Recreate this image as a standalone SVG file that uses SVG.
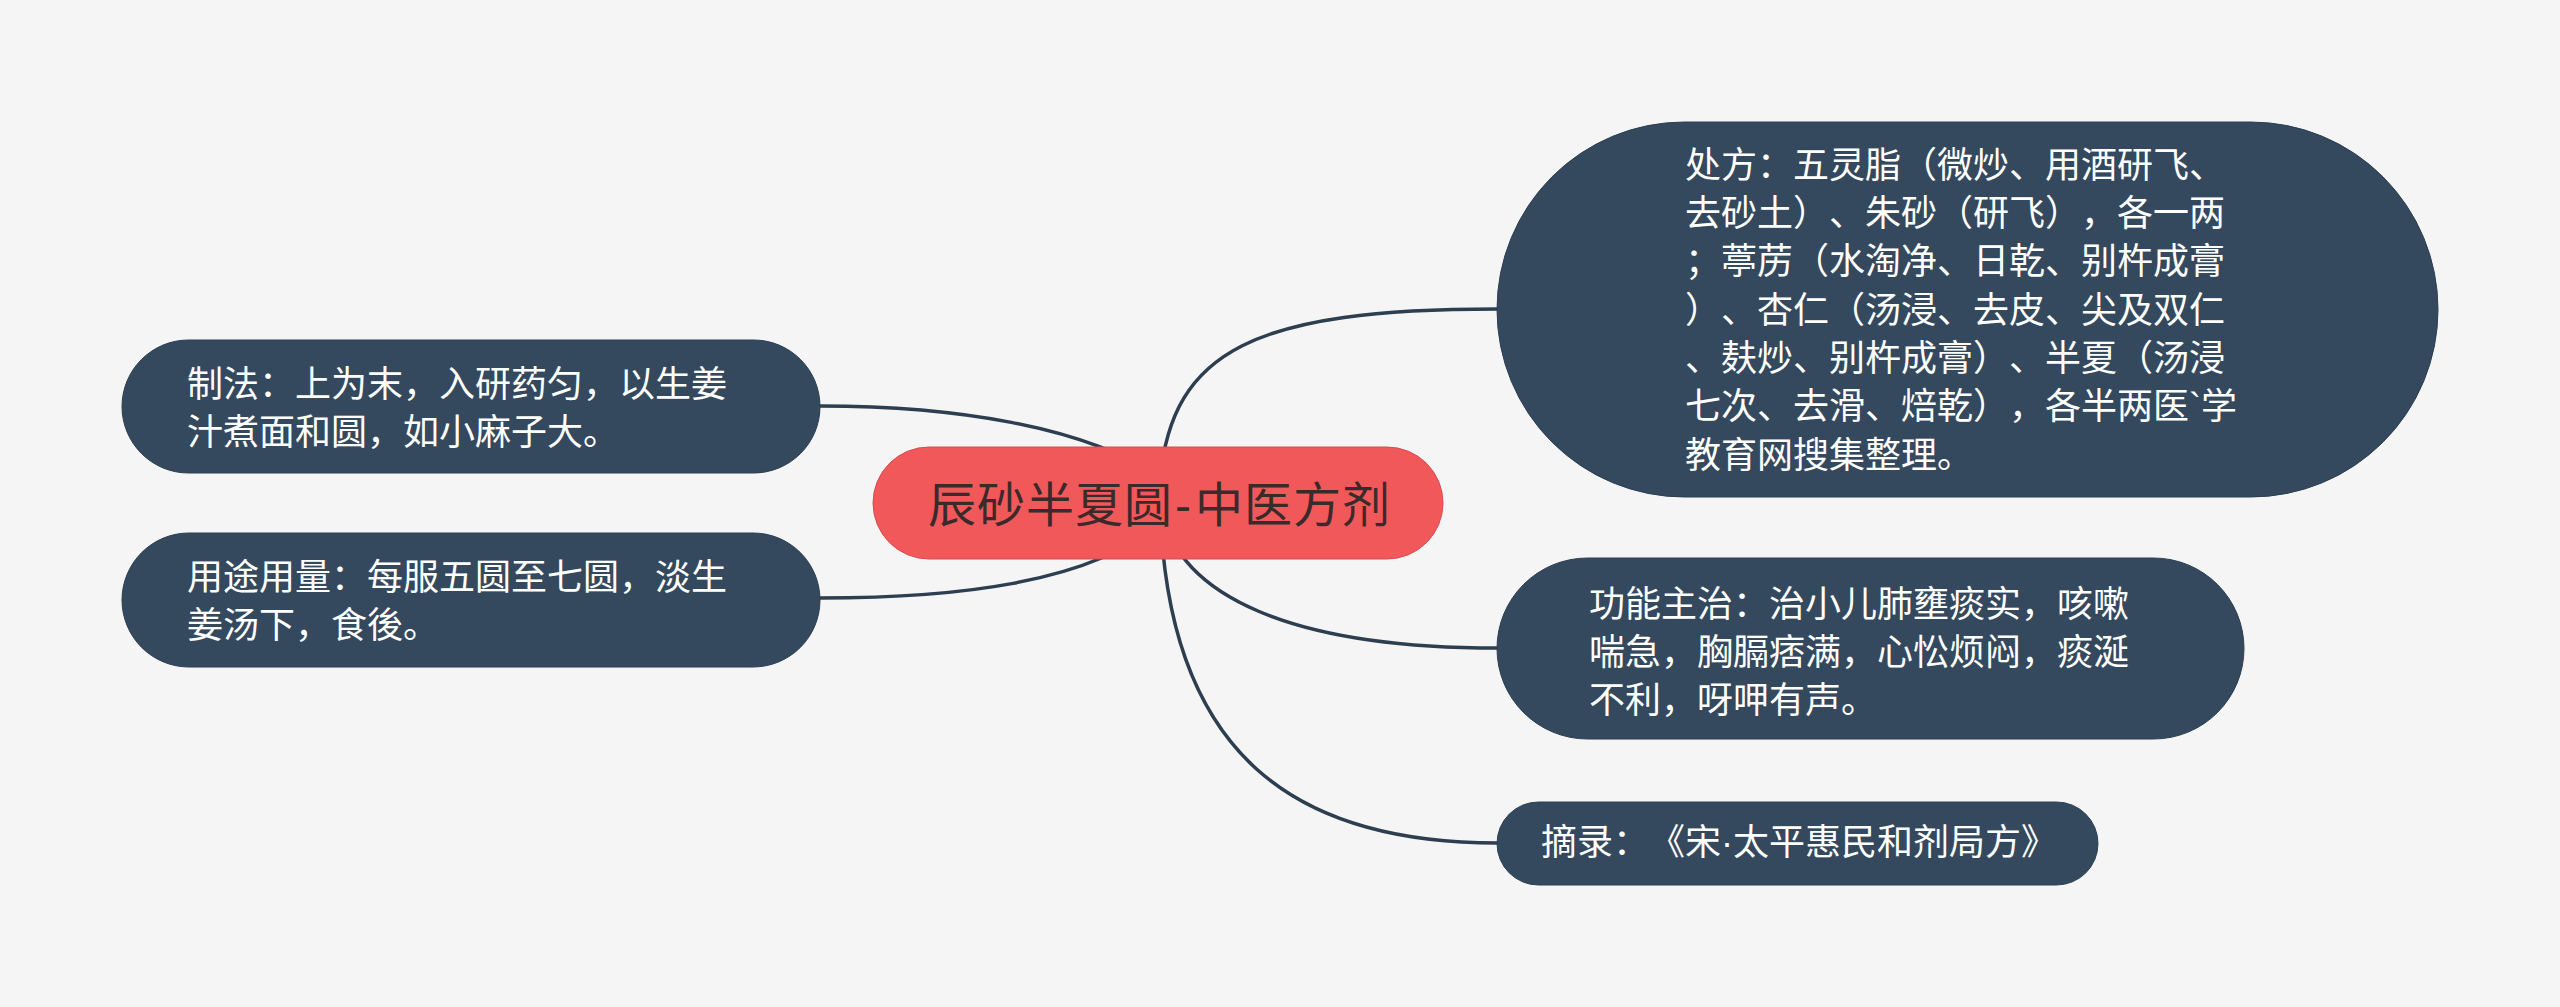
<svg xmlns="http://www.w3.org/2000/svg" width="2560" height="1007" viewBox="0 0 2560 1007">
<style>
.bg{fill:#f5f5f5}
.branch{fill:#34495e;stroke:#2c3e52;stroke-width:1}
.root{fill:#f0585a;stroke:#d94c4f;stroke-width:1}
text{text-spacing-trim:space-all;font-kerning:none;font-feature-settings:"halt" 0,"chws" 0,"palt" 0}
.t{font-family:"Liberation Sans","Noto Sans CJK SC",sans-serif;font-size:36px;fill:#ffffff}
.rt{font-family:"Liberation Sans","Noto Sans CJK SC",sans-serif;font-size:48px;fill:#3b2a2b;letter-spacing:1px}
.edge{fill:none;stroke:#2c3e50;stroke-width:3.5;stroke-linecap:round}
</style>
<rect class="bg" x="0" y="0" width="2560" height="1007"/>
<g id="connectors">
<path class="edge" d="M1160 480 C1172 350 1255 309 1497 309"/>
<path class="edge" d="M1160 500 C1172 600 1300 648 1497 648"/>
<path class="edge" d="M1160 500 C1165 760 1300 843 1497 843"/>
<path class="edge" d="M820 406 C950 406 1085 425 1165 480"/>
<path class="edge" d="M820 598 C950 598 1090 585 1165 520"/>
</g>
<g id="root">
<rect class="root" x="873" y="447" width="570" height="112" rx="56"/>
<text class="rt" x="928" y="522">辰砂半夏圆<tspan dx="2">-</tspan><tspan dx="3">中医方剂</tspan></text>
</g>
<g id="node-chufang">
<rect class="branch" x="1497" y="122" width="941" height="375" rx="187.5"/>
<text class="t" x="1685" y="178">处方：五灵脂（微炒、用酒研飞、</text>
<text class="t" x="1685" y="226">去砂土）、朱砂（研飞），各一两</text>
<text class="t" x="1685" y="274">；葶苈（水淘净、日乾、别杵成膏</text>
<text class="t" x="1685" y="323">）、杏仁（汤浸、去皮、尖及双仁</text>
<text class="t" x="1685" y="371">、麸炒、别杵成膏）、半夏（汤浸</text>
<text class="t" x="1685" y="419">七次、去滑、焙乾），各半两医`学</text>
<text class="t" x="1685" y="468">教育网搜集整理。</text>
</g>
<g id="node-gongneng">
<rect class="branch" x="1497" y="558" width="747" height="181" rx="90.5"/>
<text class="t" x="1589" y="617">功能主治：治小儿肺壅痰实，咳嗽</text>
<text class="t" x="1589" y="665">喘急，胸膈痞满，心忪烦闷，痰涎</text>
<text class="t" x="1589" y="713">不利，呀呷有声。</text>
</g>
<g id="node-zhailu">
<rect class="branch" x="1497" y="802" width="601" height="83" rx="41.5"/>
<text class="t" x="1541" y="855">摘录：《宋·太平惠民和剂局方》</text>
</g>
<g id="node-zhifa">
<rect class="branch" x="122" y="340" width="698" height="133" rx="66.5"/>
<text class="t" x="187" y="397">制法：上为末，入研药匀，以生姜</text>
<text class="t" x="187" y="445">汁煮面和圆，如小麻子大。</text>
</g>
<g id="node-yongtu">
<rect class="branch" x="122" y="533" width="698" height="134" rx="67"/>
<text class="t" x="187" y="590">用途用量：每服五圆至七圆，淡生</text>
<text class="t" x="187" y="638">姜汤下，食後。</text>
</g>
</svg>
